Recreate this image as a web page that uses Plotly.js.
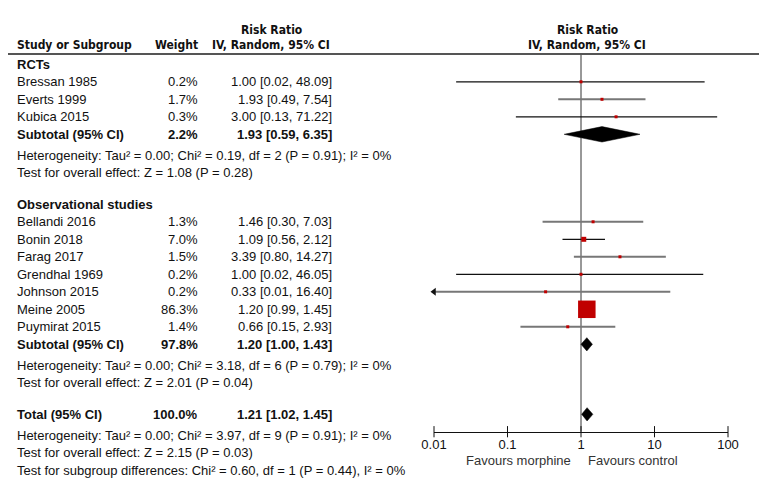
<!DOCTYPE html>
<html><head><meta charset="utf-8">
<script src="https://cdn.plot.ly/plotly-3.0.1.min.js"></script>
<style>html,body{margin:0;padding:0;background:#fff}#chart{width:759px;height:503px}</style>
</head><body><div id="chart"></div>
<script>
// ---------- data ----------
const groupNames = ["RCTs", "Observational studies"];
const studies = ["Bressan 1985","Everts 1999","Kubica 2015","Bellandi 2016","Bonin 2018","Farag 2017","Grendhal 1969","Johnson 2015","Meine 2005","Puymirat 2015"];
const studyGroup = [0,0,0,1,1,1,1,1,1,1];
const weights = [0.2,1.7,0.3,1.3,7.0,1.5,0.2,0.2,86.3,1.4];
const rr = [1.00,1.93,3.00,1.46,1.09,3.39,1.00,0.33,1.20,0.66];
const ciLow = [0.02,0.49,0.13,0.30,0.56,0.80,0.02,0.01,0.99,0.15];
const ciHigh = [48.09,7.54,71.22,7.03,2.12,14.27,46.05,16.40,1.45,2.93];
const subWeight = [2.2, 97.8];
const subRR = [1.93, 1.20];
const subLow = [0.59, 1.00];
const subHigh = [6.35, 1.43];
const subHet = ["Heterogeneity: Tau² = 0.00; Chi² = 0.19, df = 2 (P = 0.91); I² = 0%",
                "Heterogeneity: Tau² = 0.00; Chi² = 3.18, df = 6 (P = 0.79); I² = 0%"];
const subTest = ["Test for overall effect: Z = 1.08 (P = 0.28)",
                 "Test for overall effect: Z = 2.01 (P = 0.04)"];
const totalWeight = 100.0, totalRR = 1.21, totalLow = 1.02, totalHigh = 1.45;
const totalHet = "Heterogeneity: Tau² = 0.00; Chi² = 3.97, df = 9 (P = 0.91); I² = 0%";
const totalTest = "Test for overall effect: Z = 2.15 (P = 0.03)";
const subgroupTest = "Test for subgroup differences: Chi² = 0.60, df = 1 (P = 0.44), I² = 0%";
const tickVals = [0.01, 0.1, 1, 10, 100];
const tickText = ["0.01", "0.1", "1", "10", "100"];
const favoursLeft = "Favours morphine", favoursRight = "Favours control";

// ---------- styles / layout constants ----------
const W = 759, H = 503;
const ROW0 = 64.3, STEP = 17.5;           // pixel y of row 0 and row spacing
const FONT = "Liberation Sans, Arial, sans-serif";
const HFONT = "DejaVu Sans Condensed, Liberation Sans, Arial, sans-serif";
const lineGray = [false,true,false,true,false,true,false,true,false,true];
const xName = 15, xWeight = 200, xCI = 334;
const axisMin = 0.01, axisMax = 100;

const px2row = p => (p - ROW0) / STEP;
const fmt = v => v.toFixed(2);
const ciStr = (e,l,h) => `${fmt(e)} [${fmt(l)}, ${fmt(h)}]`;

const annotations = [];
function txt(s, xpx, row, anchor, opts = {}) {
  annotations.push(Object.assign({
    text: s, xref: "paper", yref: "y", x: xpx / W, y: row, xanchor: anchor, yanchor: "middle",
    showarrow: false, font: {family: FONT, size: 13, color: "#111"}
  }, opts));
}

const traces = [];
// vertical line at 1
const axisRow = px2row(431.7);
traces.push({x: [1, 1], y: [px2row(54), axisRow], mode: "lines", line: {color: "#333", width: 1}, hoverinfo: "skip"});

// rows
let row = 0;
const studyRow = [];
const subRow = [];
groupNames.forEach((g, gi) => {
  txt("<b>" + g + "</b>", xName, row, "left");
  row += 1;
  studies.forEach((s, i) => {
    if (studyGroup[i] !== gi) return;
    studyRow[i] = row;
    txt(s, xName, row, "left");
    txt(weights[i].toFixed(1) + "%", xWeight, row, "right");
    txt(ciStr(rr[i], ciLow[i], ciHigh[i]), xCI, row, "right");
    row += 1;
  });
  subRow[gi] = row;
  txt("<b>Subtotal (95% CI)</b>", xName, row, "left");
  txt("<b>" + subWeight[gi].toFixed(1) + "%</b>", xWeight, row, "right");
  txt("<b>" + ciStr(subRR[gi], subLow[gi], subHigh[gi]) + "</b>", xCI, row, "right");
  txt(subHet[gi], xName, row + 1.2, "left");
  txt(subTest[gi], xName, row + 2.2, "left");
  row += 4;
});
const totalRow = row;
txt("<b>Total (95% CI)</b>", xName, totalRow, "left");
txt("<b>" + totalWeight.toFixed(1) + "%</b>", xWeight, totalRow, "right");
txt("<b>" + ciStr(totalRR, totalLow, totalHigh) + "</b>", xCI, totalRow, "right");
txt(totalHet, xName, totalRow + 1.2, "left");
txt(totalTest, xName, totalRow + 2.2, "left");
txt(subgroupTest, xName, totalRow + 3.2, "left");

// headers
const hf = {family: HFONT, size: 12, color: "#111"};
txt("<b>Risk Ratio</b>", 271, px2row(30), "center", {font: hf});
txt("<b>Study or Subgroup</b>", xName, px2row(45), "left", {font: hf});
txt("<b>Weight</b>", xWeight, px2row(45), "right", {font: hf});
txt("<b>IV, Random, 95% CI</b>", 271, px2row(45), "center", {font: hf});
txt("<b>Risk Ratio</b>", 587, px2row(30), "center", {font: hf});
txt("<b>IV, Random, 95% CI</b>", 587, px2row(45), "center", {font: hf});

// favours labels (log axis annotation -> log10 coordinates)
annotations.push({text: favoursLeft, xref: "x", yref: "y", x: Math.log10(1), xshift: -8, y: px2row(460),
  xanchor: "right", yanchor: "middle", showarrow: false, font: {family: FONT, size: 13, color: "#333"}});
annotations.push({text: favoursRight, xref: "x", yref: "y", x: Math.log10(1), xshift: 5, y: px2row(460),
  xanchor: "left", yanchor: "middle", showarrow: false, font: {family: FONT, size: 13, color: "#333"}});

// CI lines
studies.forEach((s, i) => {
  const lo = Math.max(ciLow[i], axisMin), hi = Math.min(ciHigh[i], axisMax);
  traces.push({x: [lo, hi], y: [studyRow[i], studyRow[i]], mode: "lines",
    line: {color: lineGray[i] ? "#777" : "#111", width: lineGray[i] ? 2 : 1.2}, hoverinfo: "skip"});
  if (ciLow[i] <= axisMin) {
    traces.push({x: [axisMin], y: [studyRow[i]], mode: "markers", cliponaxis: false,
      marker: {symbol: "triangle-left", size: 7, color: "#111"}, hoverinfo: "skip"});
  }
});
// squares
const maxW = Math.max(...weights);
traces.push({x: rr, y: studies.map((s, i) => studyRow[i]), mode: "markers",
  marker: {symbol: "square", color: "#c00000", opacity: 1,
    size: weights.map(w => Math.max(3, 17.5 * Math.sqrt(w / maxW))), line: {width: 0}},
  hoverinfo: "skip"});

// diamonds
function diamond(e, l, h, r, half) {
  traces.push({x: [l, e, h, e, l], y: [r, r - half, r, r + half, r], mode: "lines", fill: "toself",
    fillcolor: "#000", line: {color: "#000", width: 0.5}, hoverinfo: "skip"});
}
diamond(subRR[0], subLow[0], subHigh[0], subRow[0], 0.44);
diamond(subRR[1], subLow[1], subHigh[1], subRow[1], 0.38);
diamond(totalRR, totalLow, totalHigh, totalRow, 0.38);

// tick marks crossing the axis line
traces.push({x: tickVals, y: tickVals.map(() => axisRow), mode: "markers", cliponaxis: false,
  marker: {symbol: "line-ns", size: 8, line: {color: "#111", width: 1}}, hoverinfo: "skip"});

const layout = {
  width: W, height: H, margin: {l: 0, r: 0, t: 0, b: 0}, showlegend: false,
  paper_bgcolor: "#fff", plot_bgcolor: "rgba(0,0,0,0)",
  xaxis: {type: "log", range: [Math.log10(axisMin), Math.log10(axisMax)], domain: [434 / W, 728 / W],
    anchor: "free", position: 1 - 431.7 / H, showline: true, linecolor: "#111", linewidth: 1,
    ticks: "outside", ticklen: 1, tickcolor: "rgba(0,0,0,0)", tickvals: tickVals, ticktext: tickText,
    showgrid: false, zeroline: false, tickfont: {family: FONT, size: 13, color: "#111"}},
  yaxis: {range: [px2row(H), px2row(0)], domain: [0, 1], visible: false, showgrid: false, zeroline: false},
  shapes: [{type: "line", xref: "paper", yref: "paper", x0: 8 / W, x1: 1, y0: 1 - 54 / H, y1: 1 - 54 / H,
    line: {color: "#555", width: 2}}],
  annotations: annotations
};
Plotly.newPlot("chart", traces, layout, {staticPlot: true, displayModeBar: false});
</script></body></html>
